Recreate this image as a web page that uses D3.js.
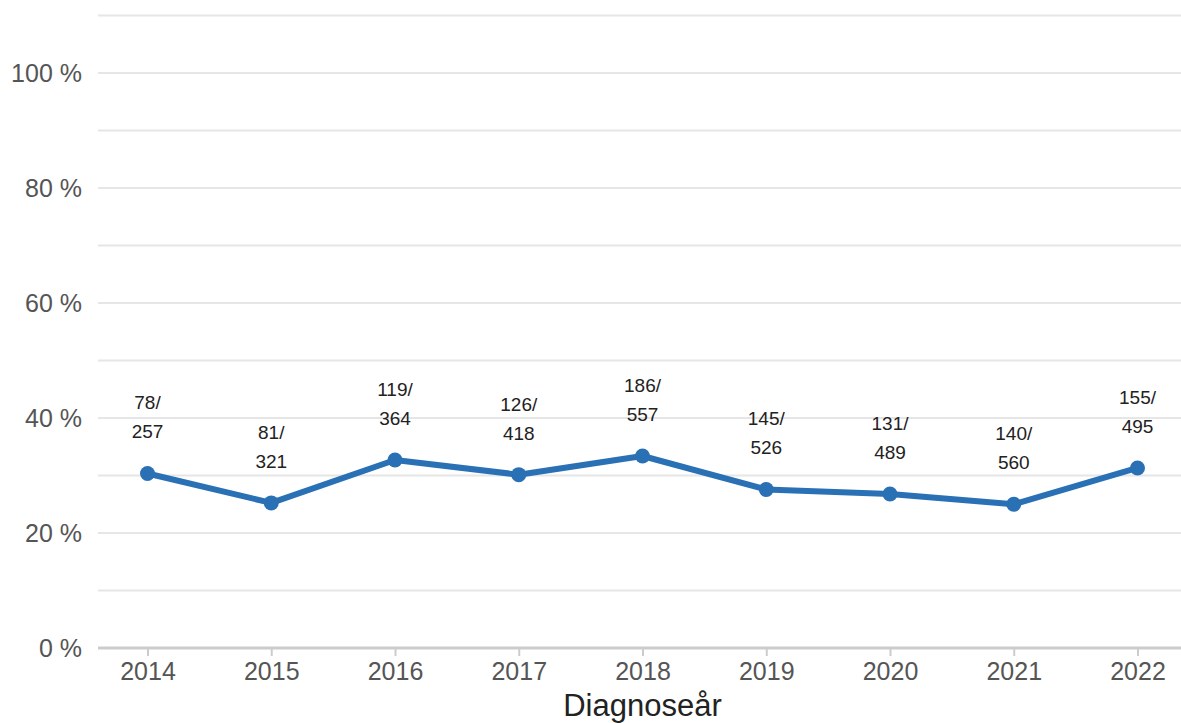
<!DOCTYPE html>
<html>
<head>
<meta charset="utf-8">
<script src="https://cdn.jsdelivr.net/npm/d3@7"></script>
<style>
  body { margin: 0; background: #fff; }
  svg { display: block; font-family: "Liberation Sans", Arial, sans-serif; }
</style>
</head>
<body>
<svg id="chart"></svg>
<script>
// chart data
const years = ["2014", "2015", "2016", "2017", "2018", "2019", "2020", "2021", "2022"];
const numerators = [78, 81, 119, 126, 186, 145, 131, 140, 155];
const denominators = [257, 321, 364, 418, 557, 526, 489, 560, 495];
const yTicks = [0, 0.2, 0.4, 0.6, 0.8, 1.0];
const gridValues = [0, 0.1, 0.2, 0.3, 0.4, 0.5, 0.6, 0.7, 0.8, 0.9, 1.0, 1.1];
const xTitle = "Diagnoseår";

let width = 1181;
let height = 723;
let margin = {left: 98, right: -6, top: 15.5, bottom: 75};

let data = years.map((y, i) => ({year: y, num: numerators[i], den: denominators[i], pct: numerators[i] / denominators[i]}));

let svg = d3.select('#chart')
            .attr('width', width)
            .attr('height', height);

let xScale = d3.scalePoint()
               .domain(years)
               .range([margin.left, width - margin.right])
               .padding(0.4);

let yScale = d3.scaleLinear()
               .domain([0, 1.1])
               .range([height - margin.bottom, margin.top]);

// gridlines
svg.append('g')
   .selectAll('line')
   .data(gridValues.filter(v => v > 0))
   .enter()
   .append('line')
   .attr('x1', margin.left)
   .attr('x2', width)
   .attr('y1', d => yScale(d))
   .attr('y2', d => yScale(d))
   .attr('stroke', '#e6e6e6')
   .attr('stroke-width', 2);

// y axis labels
let yAxis = svg.append('g')
               .attr('transform', `translate(${margin.left},0)`)
               .call(d3.axisLeft(yScale).tickValues(yTicks).tickSize(0).tickPadding(16)
                       .tickFormat(d => Math.round(d * 100) + ' %'));
yAxis.select('.domain').remove();
yAxis.selectAll('text')
     .attr('font-size', 25)
     .attr('font-family', '"Liberation Sans", Arial, sans-serif')
     .attr('fill', '#555');

// x axis
let xAxis = svg.append('g')
               .attr('transform', `translate(0,${yScale(0)})`)
               .call(d3.axisBottom(xScale).tickSize(8).tickPadding(6));
xAxis.select('.domain')
     .attr('d', `M${margin.left},0H${width}`)
     .attr('stroke', '#ccc')
     .attr('stroke-width', 3);
xAxis.selectAll('.tick line')
     .attr('stroke', '#ccc')
     .attr('stroke-width', 2);
xAxis.selectAll('text')
     .attr('font-size', 25)
     .attr('font-family', '"Liberation Sans", Arial, sans-serif')
     .attr('fill', '#555');

svg.append('text')
   .attr('x', (xScale(years[0]) + xScale(years[years.length - 1])) / 2)
   .attr('y', 716)
   .attr('text-anchor', 'middle')
   .attr('font-size', 31)
   .attr('fill', '#222')
   .text(xTitle);

// line
let line = d3.line()
             .x(d => xScale(d.year))
             .y(d => yScale(d.pct));

svg.append('path')
   .datum(data)
   .attr('d', line)
   .attr('fill', 'none')
   .attr('stroke', '#2a70b5')
   .attr('stroke-width', 6)
   .attr('stroke-linejoin', 'round');

svg.append('g')
   .selectAll('circle')
   .data(data)
   .enter()
   .append('circle')
   .attr('cx', d => xScale(d.year))
   .attr('cy', d => yScale(d.pct))
   .attr('r', 7.5)
   .attr('fill', '#2a70b5');

// point labels: numerator/ on top, denominator below
let labels = svg.append('g')
                .selectAll('g')
                .data(data)
                .enter()
                .append('g');

labels.append('text')
      .attr('x', d => xScale(d.year))
      .attr('y', d => yScale(d.pct) - 64)
      .attr('text-anchor', 'middle')
      .attr('font-size', 19)
      .attr('fill', '#222')
      .text(d => d.num + '/');

labels.append('text')
      .attr('x', d => xScale(d.year))
      .attr('y', d => yScale(d.pct) - 35)
      .attr('text-anchor', 'middle')
      .attr('font-size', 19)
      .attr('fill', '#222')
      .text(d => d.den);
</script>
</body>
</html>
